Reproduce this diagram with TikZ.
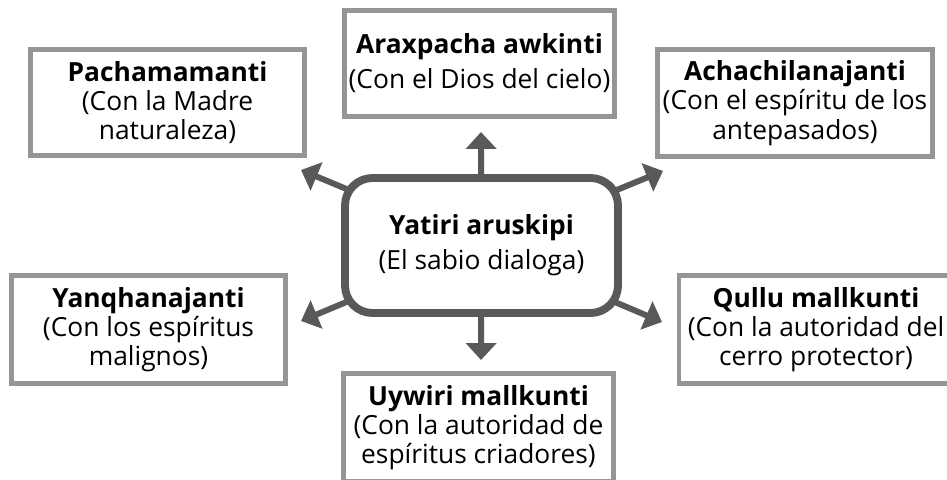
\documentclass[tikz,border=0pt]{standalone}
\usepackage{fontspec}
\setmainfont{Open Sans}
\usetikzlibrary{arrows.meta,backgrounds}
\definecolor{boxgray}{RGB}{147,149,152}
\definecolor{arrowgray}{RGB}{88,89,91}
\tikzset{
  spirit/.style={draw=boxgray, line width=2.8pt, fill=white, align=center,
    inner sep=0pt, font=\fontsize{15}{16.6}\selectfont},
  sage/.style={draw=arrowgray, line width=4.5pt, fill=white, align=center,
    rounded corners=0.55cm, inner sep=0pt, minimum width=273*0.02cm,
    minimum height=135*0.02cm, font=\fontsize{15}{20}\selectfont},
  talk/.style={arrowgray, line width=3.4pt, -{Triangle[length=9.6pt,width=17pt]}}
}
\begin{document}
\begin{tikzpicture}[x=0.02cm, y=-0.02cm]
  \useasboundingbox (0,0) rectangle (947,480);
  % Centre
  \node[sage] (yatiri) at (481.5,245.5) {\textbf{Yatiri aruskipi}\\(El sabio dialoga)};
  % Boxes
  \node[spirit, minimum width=274*0.02cm, minimum height=106*0.02cm] (pacha) at (167.5,102.5)
    {\textbf{Pachamamanti}\\(Con la Madre\\naturaleza)};
  \node[spirit, minimum width=270*0.02cm, minimum height=106*0.02cm,
    font=\fontsize{15}{20}\selectfont] (arax) at (479.5,63.5)
    {\textbf{Araxpacha awkinti}\\(Con el Dios del cielo)};
  \node[spirit, minimum width=275*0.02cm, minimum height=107*0.02cm] (achachi) at (795,103)
    {\textbf{Achachilanajanti}\\(Con el espíritu de los\\antepasados)};
  \node[spirit, minimum width=274*0.02cm, minimum height=108*0.02cm] (yanqha) at (148.5,329.5)
    {\textbf{Yanqhanajanti}\\(Con los espíritus\\malignos)};
  \node[spirit, minimum width=274*0.02cm, minimum height=108*0.02cm] (qullu) at (816,329.5)
    {\textbf{Qullu mallkunti}\\(Con la autoridad del\\cerro protector)};
  \node[spirit, minimum width=270*0.02cm, minimum height=108*0.02cm] (uywiri) at (478.5,427.5)
    {\textbf{Uywiri mallkunti}\\(Con la autoridad de\\espíritus criadores)};
  % Arrow tips
  \coordinate (tipN) at (481,132);
  \coordinate (tipS) at (481,360);
  \coordinate (tipNW) at (301,170);
  \coordinate (tipNE) at (663,171);
  \coordinate (tipSW) at (301,321);
  \coordinate (tipSE) at (662,322);
  % Arrows
  \begin{scope}[on background layer]
    \foreach \t in {tipN, tipS, tipNW, tipNE, tipSW, tipSE}
      \draw[talk] (yatiri.center) -- (\t);
  \end{scope}
\end{tikzpicture}
\end{document}
